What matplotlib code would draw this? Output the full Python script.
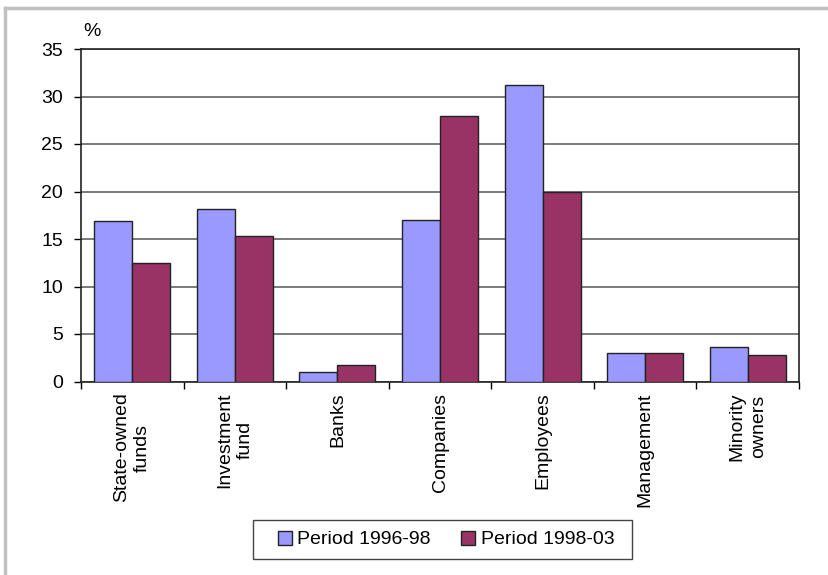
import matplotlib
matplotlib.use("Agg")
import matplotlib.pyplot as plt
import numpy as np
from matplotlib.lines import Line2D
from matplotlib.patches import Rectangle

categories = ["State-owned\nfunds", "Investment\nfund", "Banks", "Companies",
              "Employees", "Management", "Minority\nowners"]
series_names = ["Period 1996-98", "Period 1998-03"]
period_1996_98 = [16.9, 18.2, 1.0, 17.0, 31.2, 3.0, 3.6]
period_1998_03 = [12.5, 15.3, 1.7, 28.0, 20.0, 3.0, 2.8]
yticks = [0, 5, 10, 15, 20, 25, 30, 35]

plt.rcParams['font.family'] = ['Liberation Sans', 'DejaVu Sans']
FS = 14

fig = plt.figure(figsize=(8.29, 5.75), dpi=100)
ax = fig.add_axes([81/829, 1-381.5/575, (799-81)/829, (381.5-49)/575])

x = np.arange(len(categories))
w = 0.37
ax.bar(x - w/2, period_1996_98, w, color="#9999FF", edgecolor="#222222", linewidth=1, label=series_names[0], zorder=3)
ax.bar(x + w/2, period_1998_03, w, color="#993366", edgecolor="#222222", linewidth=1, label=series_names[1], zorder=3)

ax.set_xlim(-0.5, len(categories) - 0.5)
ax.set_ylim(0, 35)
ax.set_yticks(yticks)
ax.set_yticklabels([str(v) for v in yticks], fontsize=FS)
ax.yaxis.grid(True, color="#707070", linewidth=1.3, zorder=0)
ax.set_axisbelow(True)

ax.set_xticks(np.arange(len(categories) + 1) - 0.5)
ax.set_xticklabels([])
ax.set_xticks(x, minor=True)
ax.set_xticklabels(categories, minor=True, rotation=90, fontsize=FS,
                   ha='center', va='top', multialignment='center', linespacing=1.3)
ax.tick_params(axis='x', which='minor', length=0, pad=8)
ax.tick_params(axis='x', which='major', length=5, direction='out', width=1)
ax.tick_params(axis='y', length=5, direction='out', width=1, pad=8)

for s in ax.spines.values():
    s.set_color("#222222")
    s.set_linewidth(1.2)

fig.text(92/829, 1-32/575, "%", fontsize=FS, ha='center', va='center')

leg = fig.legend(loc='center', bbox_to_anchor=(446/829, 1-539.5/575), ncol=2,
                 fontsize=FS, frameon=False,
                 handlelength=0.72, handleheight=0.72, handletextpad=0.3,
                 columnspacing=1.55, borderpad=0.0)
fig.add_artist(Rectangle((253/829, 1-559/575), (632-253)/829, 39/575,
                         transform=fig.transFigure, fill=False,
                         edgecolor="#444444", linewidth=1.0))

# outer frame (top and left)
fig.add_artist(Line2D([5/829, 1], [1-8/575, 1-8/575], transform=fig.transFigure, color="#c0c0c0", linewidth=2.5))
fig.add_artist(Line2D([5/829, 5/829], [0, 1-8/575], transform=fig.transFigure, color="#c0c0c0", linewidth=2.5))

fig.savefig("out.png", dpi=100)
